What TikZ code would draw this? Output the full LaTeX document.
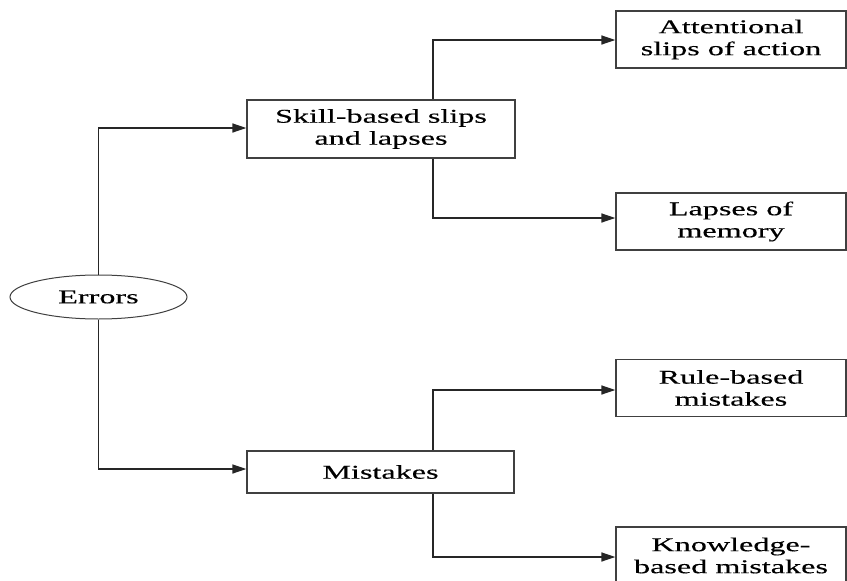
\documentclass[tikz,border=0pt]{standalone}
\usepackage{fontspec}
\setmainfont{Liberation Serif}[FakeStretch=1.65,FakeBold=0.35]
\usetikzlibrary{arrows.meta,shapes.geometric}
\begin{document}
\begin{tikzpicture}[x=1pt,y=-1pt,
  every node/.style={font=\fontsize{19.5}{22}\selectfont, text=black, align=center, inner sep=0pt},
  box/.style={draw=black!75, line width=1.3pt, rectangle, minimum width=#1, minimum height=57pt},
  box/.default=230pt,
  oval/.style={draw=black!75, line width=1pt, ellipse, minimum width=177pt, minimum height=44pt},
  link/.style={draw=black!85, line width=1.6pt, -{Triangle[length=14pt,width=9pt]}}]
  \useasboundingbox (0,0) rectangle (847,581);

  % root and the two error classes
  \node[oval] (err) at (98.5,297) {Errors};
  \node[box=268pt, minimum height=58pt] (skill) at (381,129) {Skill-based slips\\and lapses};
  \node[box=267pt, minimum height=42pt] (mist) at (380.5,472) {Mistakes};

  % leaf categories
  \node[box] (att)  at (731,39.5)  {Attentional\\slips of action};
  \node[box] (lap)  at (731,221.5) {Lapses of\\memory};
  \node[box] (rule) at (731,388)   {Rule-based\\mistakes};
  \node[box] (know) at (731,555.5) {Knowledge-\\based mistakes};

  % branch column for the second level
  \coordinate (bx) at (433,0);

  \draw[link] (err.north) |- ([yshift=1pt]skill.west);
  \draw[link] (err.south) |- ([yshift=3pt]mist.west);

  \draw[link] (skill.north -| bx) |- ([yshift=-0.5pt]att.west);
  \draw[link] (skill.south -| bx) |- ([yshift=3.5pt]lap.west);
  \draw[link] (mist.north -| bx) |- ([yshift=-2pt]rule.west);
  \draw[link] (mist.south -| bx) |- ([yshift=-1.5pt]know.west);
\end{tikzpicture}
\end{document}
